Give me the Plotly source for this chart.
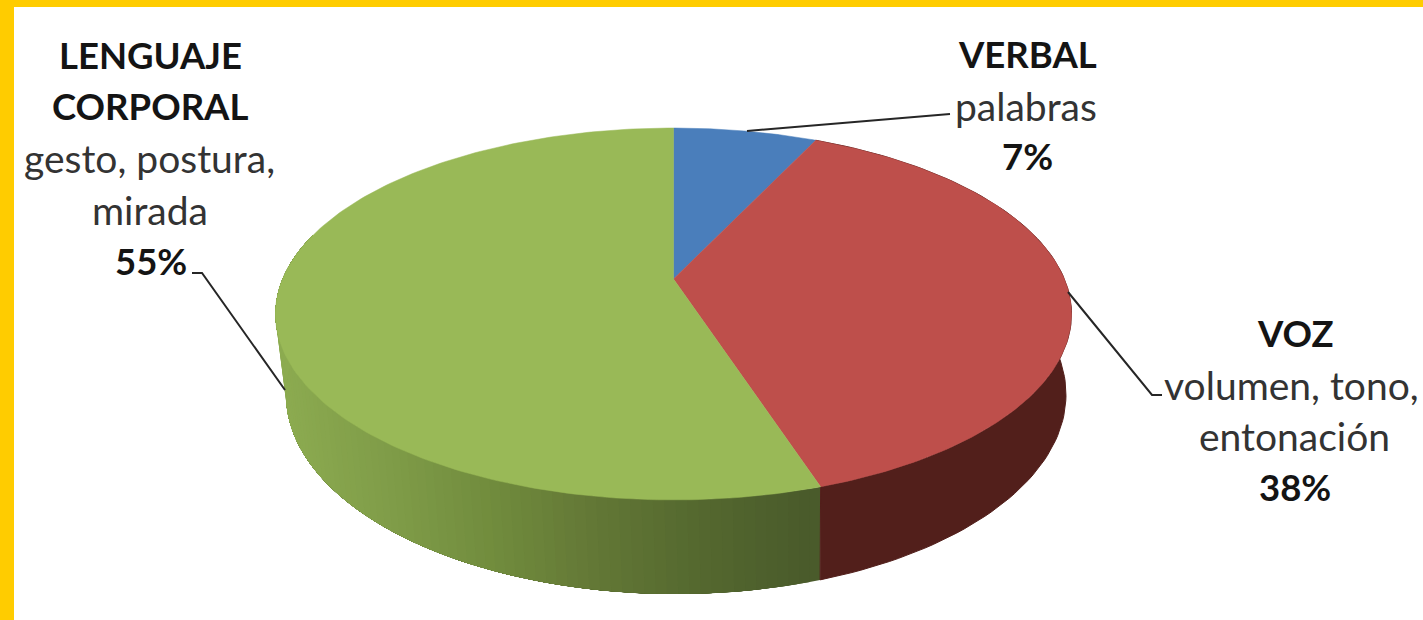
import numpy as np
import plotly.graph_objects as go

categories = ["VERBAL", "VOZ", "LENGUAJE CORPORAL"]
details = ["palabras", "volumen, tono, entonación", "gesto, postura, mirada"]
values = [7, 38, 55]
top_colors = ["#4A7EBB", "#BE4F4B", "#99B957"]

W, H = 1423, 620
YELLOW = "#FFCC00"
TILT = 0.188

TOP = dict(cx=673.5, apex=279, up=151, down=221, a=398)
BOT = dict(cx=676, apex=357, up=162, down=238, a=390)


def project(frac, g):
    """Circle position (fraction of turn, clockwise from 12 o'clock) -> perspective ellipse."""
    t = 2 * np.pi * np.asarray(frac, dtype=float)
    x, y = np.sin(t), np.cos(t)
    p = g["up"] * (1 + TILT)
    r = g["a"] * np.sqrt(1 - TILT ** 2)
    d = 1 + TILT * y
    return g["cx"] + r * x / d, g["apex"] - p * y / d


fractions = np.cumsum([0] + values) / sum(values)
fig = go.Figure()

# side wall: green slice, shaded left to right, painted back over itself so no seams show
shade_x = [290, 400, 500, 600, 700, 810]
shade_r = [140, 127, 113, 99, 85, 74]
shade_g = [171, 156, 140, 120, 105, 91]
shade_b = [80, 72, 61, 54, 47, 43]
N = 90
vis_end = fractions[2] + (fractions[3] - fractions[2]) * 0.62
edges = np.linspace(fractions[2], vis_end, N + 1)
for i in range(N):
    f = np.linspace(edges[i], vis_end, 80)
    xt, yt = project(f, TOP)
    xb, yb = project(f, BOT)
    sx = float(project(edges[i], BOT)[0])
    col = "rgb(%d,%d,%d)" % (round(np.interp(sx, shade_x, shade_r)),
                             round(np.interp(sx, shade_x, shade_g)),
                             round(np.interp(sx, shade_x, shade_b)))
    fig.add_trace(go.Scatter(x=np.r_[xt, xb[::-1]], y=np.r_[yt, yb[::-1]], fill="toself", mode="lines",
                             fillcolor=col, line=dict(width=0), hoverinfo="skip"))

# side wall: red slice, painted after the green so it closes the seam between them
f = np.linspace(fractions[1], fractions[2], 100)
xt, yt = project(f, TOP)
xb, yb = project(f, BOT)
fig.add_trace(go.Scatter(x=np.r_[xt, xb[::-1], xt[0]], y=np.r_[yt, yb[::-1], yt[0]], fill="toself", mode="lines",
                         fillcolor="#521F1B", line=dict(color="#521F1B", width=1), hoverinfo="skip"))

# top face
for i, color in enumerate(top_colors):
    f = np.linspace(fractions[i], fractions[i + 1], 200)
    x, y = project(f, TOP)
    fig.add_trace(go.Scatter(x=np.r_[TOP["cx"], x, TOP["cx"]], y=np.r_[TOP["apex"], y, TOP["apex"]],
                             fill="toself", mode="lines", fillcolor=color,
                             line=dict(color=color, width=0.5), hoverinfo="skip"))

# leader lines
leaders = [
    ([747, 950], [131, 114]),
    ([1068, 1152, 1162], [292, 395, 395]),
    ([192, 202, 285], [273, 273, 390]),
]
for lx, ly in leaders:
    fig.add_trace(go.Scatter(x=lx, y=ly, mode="lines", line=dict(color="#262626", width=2), hoverinfo="skip"))

FONT = "Lato, Carlito, sans-serif"
lines = [
    ("LENGUAJE", 150, 55, True), ("CORPORAL", 150, 106, True),
    ("gesto, postura,", 149, 158, False), ("mirada", 150, 210, False), ("55%", 151, 261, True),
    ("VERBAL", 1027, 54, True), ("palabras", 1026, 106, False), ("7%", 1027, 156, True),
    ("VOZ", 1295, 333, True), ("volumen, tono,", 1291, 385, False),
    ("entonación", 1294, 436, False), ("38%", 1295, 487, True),
]
annotations = [
    dict(x=x, y=y, text=f"<b>{t}</b>" if b else t, showarrow=False, xanchor="center", yanchor="middle",
         font=dict(family=FONT, size=36.5 if b else 39, color="#141414" if b else "#333333"))
    for t, x, y, b in lines
]

fig.update_layout(
    width=W, height=H, showlegend=False, paper_bgcolor=YELLOW, plot_bgcolor="white",
    margin=dict(l=14, t=7, r=0, b=0, pad=0),
    xaxis=dict(range=[14, W], visible=False, fixedrange=True),
    yaxis=dict(range=[H, 7], visible=False, fixedrange=True),
    annotations=annotations,
)
fig.write_html("out.html", config={"displayModeBar": False},
               post_script="document.body.style.margin='0';document.body.style.overflow='hidden';")
